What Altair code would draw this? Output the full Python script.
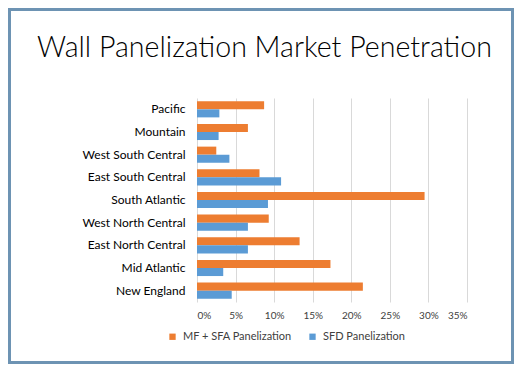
import altair as alt
import pandas as pd

regions = ["Pacific", "Mountain", "West South Central", "East South Central",
           "South Atlantic", "West North Central", "East North Central",
           "Mid Atlantic", "New England"]
mf_sfa = [0.087, 0.066, 0.025, 0.081, 0.295, 0.093, 0.133, 0.173, 0.215]
sfd = [0.029, 0.028, 0.042, 0.109, 0.092, 0.066, 0.066, 0.034, 0.045]
series = ["MF + SFA Panelization", "SFD Panelization"]
colors = ["#ED7D31", "#5B9BD5"]
x_ticks = [0, 0.05, 0.10, 0.15, 0.20, 0.25, 0.30, 0.35]
title_text = "Wall Panelization Market Penetration"

rows = []
for r, a, b in zip(regions, mf_sfa, sfd):
    rows.append({"region": r, "series": series[0], "value": a})
    rows.append({"region": r, "series": series[1], "value": b})
df = pd.DataFrame(rows)

FONT = "Lato"

bars = alt.Chart(df).mark_bar().encode(
    y=alt.Y("region:N", sort=regions, title=None,
            scale=alt.Scale(paddingInner=0.29, paddingOuter=0.145),
            axis=alt.Axis(domain=False, ticks=False, labelPadding=12,
                          labelFont=FONT, labelFontSize=12, labelColor="#000000")),
    yOffset=alt.YOffset("series:N", sort=series),
    x=alt.X("value:Q", title=None,
            scale=alt.Scale(domain=[0, 0.35], nice=False),
            axis=alt.Axis(values=x_ticks, format=".0%", domain=False, ticks=False,
                          grid=True, gridColor="#D9D9D9", labelPadding=8,
                          labelFont=FONT, labelFontSize=10, labelColor="#404040")),
    color=alt.Color("series:N", sort=series,
                    scale=alt.Scale(domain=series, range=colors),
                    legend=alt.Legend(title=None, orient="none", direction="horizontal",
                                      legendX=-30, legendY=233,
                                      symbolType="square", symbolSize=40,
                                      symbolStrokeWidth=0, labelOffset=5,
                                      columnPadding=15,
                                      labelFont=FONT, labelFontSize=11,
                                      labelColor="#404040")),
)

title = alt.Chart(pd.DataFrame({"t": [title_text]})).mark_text(
    font=FONT, fontSize=28.6, fontWeight=300, color="#000000", align="center",
    baseline="alphabetic"
).encode(text="t:N", x=alt.value(67.5), y=alt.value(-41.3))

border = alt.Chart(pd.DataFrame({"a": [0]})).mark_rect(
    filled=False, stroke="#6D93B3", strokeWidth=3
).encode(x=alt.value(-187.5), x2=alt.value(315.5),
         y=alt.value(-88.5), y2=alt.value(264.5))

chart = alt.layer(bars, title, border).properties(
    width=270, height=204,
    autosize=alt.AutoSizeParams(type="none"),
    padding={"left": 189, "top": 90, "right": 47, "bottom": 62},
).configure_view(stroke=None)

chart.save("out.html", embed_options={"renderer": "svg", "actions": False})
